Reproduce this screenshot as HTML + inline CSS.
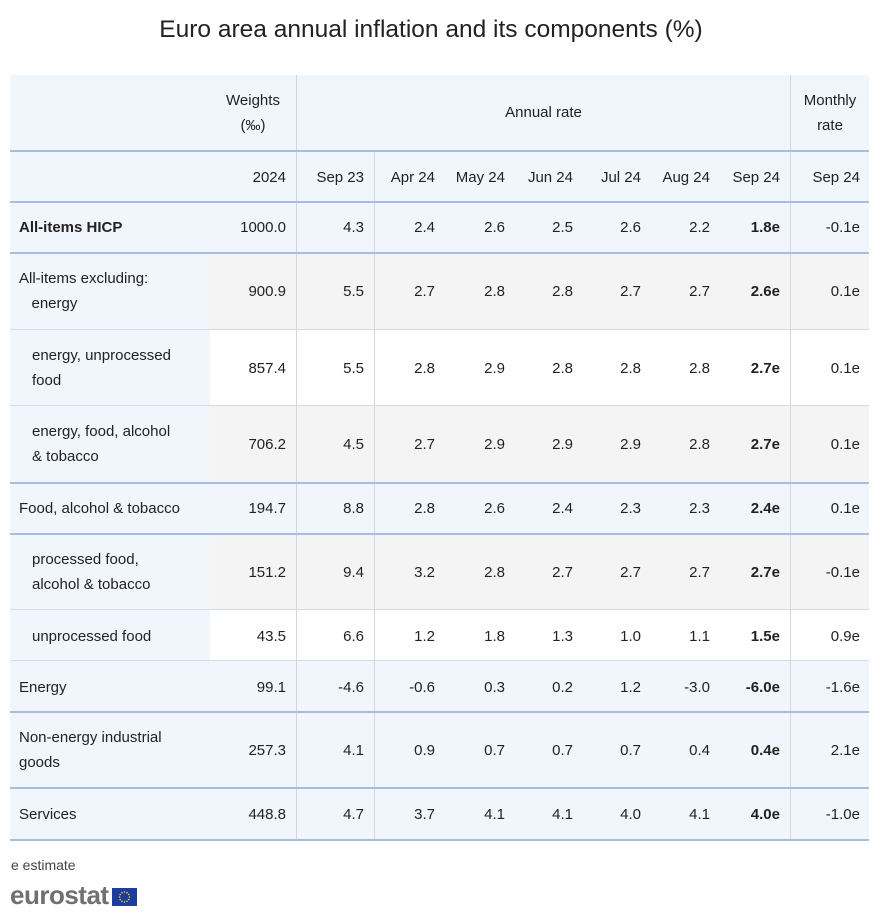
<!DOCTYPE html>
<html><head><meta charset="utf-8"><style>
*{margin:0;padding:0;box-sizing:border-box}
body{width:880px;height:923px;background:#fff;font-family:"Liberation Sans",Arial,sans-serif;color:#222;position:relative;overflow:hidden}
.a{position:absolute}
.bg{position:absolute}
.t{position:absolute;font-size:15px;line-height:25px;white-space:nowrap}
.r{text-align:right}
.hl{position:absolute;left:10px;width:859px;height:2px;background:#a9bde3}
.hl2{position:absolute;left:10px;width:859px;height:1px;background:#d3dcec}
.vl{position:absolute;width:1px;background:#d0d6e2}
b{font-weight:bold}
</style></head><body>
<div class="a" style="left:0;width:862px;top:16px;text-align:center;font-size:24.5px;color:#222">Euro area annual inflation and its components (%)</div>

<div class="bg" style="left:10px;top:75px;width:859px;height:178px;background:#f1f5fc"></div>
<div class="bg" style="left:10px;top:253px;width:859px;height:77px;background:#f4f4f4"></div>
<div class="bg" style="left:10px;top:253px;width:197px;height:77px;background:#f1f5fc"></div>
<div class="bg" style="left:10px;top:330px;width:859px;height:76px;background:#fff"></div>
<div class="bg" style="left:10px;top:330px;width:200px;height:76px;background:#f1f5fc"></div>
<div class="bg" style="left:10px;top:406px;width:859px;height:77px;background:#f4f4f4"></div>
<div class="bg" style="left:10px;top:406px;width:200px;height:77px;background:#f1f5fc"></div>
<div class="bg" style="left:10px;top:483px;width:859px;height:51px;background:#f1f5fc"></div>
<div class="bg" style="left:10px;top:534px;width:859px;height:76px;background:#f4f4f4"></div>
<div class="bg" style="left:10px;top:534px;width:200px;height:76px;background:#f1f5fc"></div>
<div class="bg" style="left:10px;top:610px;width:859px;height:51px;background:#fff"></div>
<div class="bg" style="left:10px;top:610px;width:200px;height:51px;background:#f1f5fc"></div>
<div class="bg" style="left:10px;top:661px;width:859px;height:179px;background:#f1f5fc"></div>

<div class="vl" style="left:296px;top:75px;height:765px"></div>
<div class="vl" style="left:374px;top:151px;height:689px"></div>
<div class="vl" style="left:790px;top:75px;height:765px"></div>
<div class="hl" style="top:150px"></div>
<div class="hl" style="top:201px"></div>
<div class="hl" style="top:252px"></div>
<div class="hl2" style="top:329px"></div>
<div class="hl2" style="top:405px"></div>
<div class="hl" style="top:482px"></div>
<div class="hl" style="top:533px"></div>
<div class="hl2" style="top:609px"></div>
<div class="hl2" style="top:660px"></div>
<div class="hl" style="top:711px"></div>
<div class="hl" style="top:787px"></div>
<div class="hl" style="top:839px"></div>

<div class="t" style="left:210px;width:86px;top:88px;text-align:center;line-height:25px;white-space:normal">Weights<br>(‰)</div>
<div class="t" style="left:297px;width:493px;top:100px;text-align:center">Annual rate</div>
<div class="t" style="left:791px;width:78px;top:88px;text-align:center;white-space:normal">Monthly<br>rate</div>

<div id="rows"></div>
<script>
var xs=[286,364,435,505,573,641,710,780,860];
var rows=[
[165,"",["2024","Sep 23","Apr 24","May 24","Jun 24","Jul 24","Aug 24","Sep 24","Sep 24"],0,0],
[215,"<b>All-items HICP</b>",["1000.0","4.3","2.4","2.6","2.5","2.6","2.2","<b>1.8e</b>","-0.1e"],19,0],
[279,"All-items excluding:<br>&nbsp;&nbsp;&nbsp;energy",["900.9","5.5","2.7","2.8","2.8","2.7","2.7","<b>2.6e</b>","0.1e"],19,1],
[356,"energy, unprocessed<br>food",["857.4","5.5","2.8","2.9","2.8","2.8","2.8","<b>2.7e</b>","0.1e"],32,1],
[432,"energy, food, alcohol<br>&amp; tobacco",["706.2","4.5","2.7","2.9","2.9","2.9","2.8","<b>2.7e</b>","0.1e"],32,1],
[496,"Food, alcohol &amp; tobacco",["194.7","8.8","2.8","2.6","2.4","2.3","2.3","<b>2.4e</b>","0.1e"],19,0],
[560,"processed food,<br>alcohol &amp; tobacco",["151.2","9.4","3.2","2.8","2.7","2.7","2.7","<b>2.7e</b>","-0.1e"],32,1],
[624,"unprocessed food",["43.5","6.6","1.2","1.8","1.3","1.0","1.1","<b>1.5e</b>","0.9e"],32,0],
[675,"Energy",["99.1","-4.6","-0.6","0.3","0.2","1.2","-3.0","<b>-6.0e</b>","-1.6e"],19,0],
[738,"Non-energy industrial<br>goods",["257.3","4.1","0.9","0.7","0.7","0.7","0.4","<b>0.4e</b>","2.1e"],19,1],
[802,"Services",["448.8","4.7","3.7","4.1","4.1","4.0","4.1","<b>4.0e</b>","-1.0e"],19,0]
];
var h="";
rows.forEach(function(r){
 var y=r[0];
 if(r[1]) h+='<div class="t" style="left:'+r[3]+'px;top:'+(r[4]?y-13:y)+'px">'+r[1]+'</div>';
 r[2].forEach(function(v,i){h+='<div class="t r" style="left:'+(xs[i]-80)+'px;width:80px;top:'+y+'px">'+v+'</div>';});
});
document.getElementById('rows').innerHTML=h;
</script>

<div class="t" style="left:11px;top:853px;font-size:14px;color:#444">e estimate</div>
<div class="a" style="left:10px;top:880px;font-size:26px;font-weight:bold;color:#707070;letter-spacing:-0.5px;line-height:30px">eurostat</div>
<div class="a" style="left:112px;top:888px;width:25px;height:18px;background:#1a3d9e">
<svg width="25" height="18" viewBox="0 0 25 18"><g fill="#f5d100">
<circle cx="12.5" cy="4" r="0.8"/><circle cx="15" cy="4.7" r="0.8"/><circle cx="16.8" cy="6.5" r="0.8"/><circle cx="17.5" cy="9" r="0.8"/><circle cx="16.8" cy="11.5" r="0.8"/><circle cx="15" cy="13.3" r="0.8"/><circle cx="12.5" cy="14" r="0.8"/><circle cx="10" cy="13.3" r="0.8"/><circle cx="8.2" cy="11.5" r="0.8"/><circle cx="7.5" cy="9" r="0.8"/><circle cx="8.2" cy="6.5" r="0.8"/><circle cx="10" cy="4.7" r="0.8"/></g></svg>
</div>
</body></html>
